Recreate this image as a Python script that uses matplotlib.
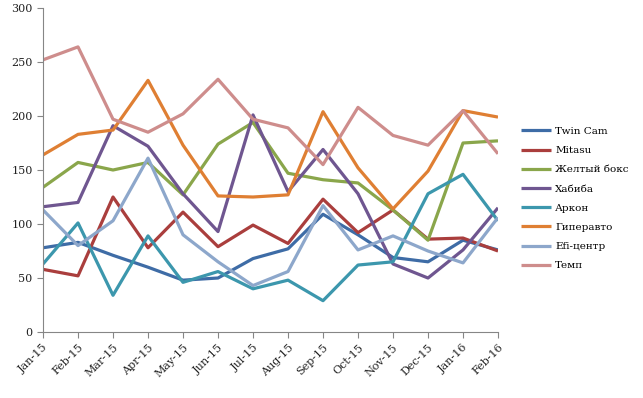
import matplotlib.pyplot as plt
import numpy as np

months = ['Jan-15', 'Feb-15', 'Mar-15', 'Apr-15', 'May-15', 'Jun-15', 'Jul-15',
          'Aug-15', 'Sep-15', 'Oct-15', 'Nov-15', 'Dec-15', 'Jan-16', 'Feb-16']

twin_cam = [78, 83, 71, 60, 48, 50, 68, 77, 109, 90, 69, 65, 85, 76]
mitasu = [58, 52, 125, 78, 111, 79, 99, 82, 123, 92, 113, 86, 87, 75]
zheltyi_boks = [134, 157, 150, 157, 127, 174, 194, 147, 141, 138, 113, 85, 175, 177]
khabiba = [116, 120, 191, 172, 128, 93, 201, 130, 169, 128, 63, 50, 76, 115]
arkon = [63, 101, 34, 89, 46, 56, 40, 48, 29, 62, 65, 128, 146, 103]
giperavto = [164, 183, 187, 233, 173, 126, 125, 127, 204, 152, 114, 149, 205, 199]
efi_centr = [113, 80, 103, 161, 90, 65, 43, 56, 117, 76, 89, 75, 64, 106]
temp = [252, 264, 197, 185, 202, 234, 197, 189, 155, 208, 182, 173, 205, 165]

series = [
    ('Twin Cam', twin_cam, '#3E6CA6'),
    ('Mitasu', mitasu, '#AA3E3D'),
    ('Желтый бокс', zheltyi_boks, '#8AA64B'),
    ('Хабиба', khabiba, '#6F5690'),
    ('Аркон', arkon, '#3C97AD'),
    ('Гиперавто', giperavto, '#DF7F33'),
    ('Efi-центр', efi_centr, '#8DA7CB'),
    ('Темп', temp, '#CE8D8C'),
]

plt.rcParams['font.family'] = ['DejaVu Serif']

fig = plt.figure(figsize=(6.43, 3.98), dpi=100)
ax = fig.add_axes([0.0669, 0.1658, 0.7076, 0.8141])

x = np.arange(len(months))
for name, vals, color in series:
    ax.plot(x, vals, color=color, linewidth=2.3, label=name, solid_capstyle='butt')

ax.set_xlim(0, len(months) - 1)
ax.set_ylim(0, 300)
ax.set_yticks(range(0, 301, 50))
ax.set_xticks(x)
ax.set_xticklabels(months, rotation=45, ha='right', rotation_mode='anchor')
ax.tick_params(axis='both', labelsize=8, color='#868686', length=4, labelcolor='#222222')

for side in ['top', 'right']:
    ax.spines[side].set_visible(False)
for side in ['left', 'bottom']:
    ax.spines[side].set_color('#868686')

fig.legend(loc='center left', bbox_to_anchor=(0.810, 0.501), frameon=False,
           fontsize=7.5, handlelength=2.9, labelspacing=0.95, handletextpad=0.4,
           borderpad=0, borderaxespad=0)

plt.savefig('out.png', dpi=100)
